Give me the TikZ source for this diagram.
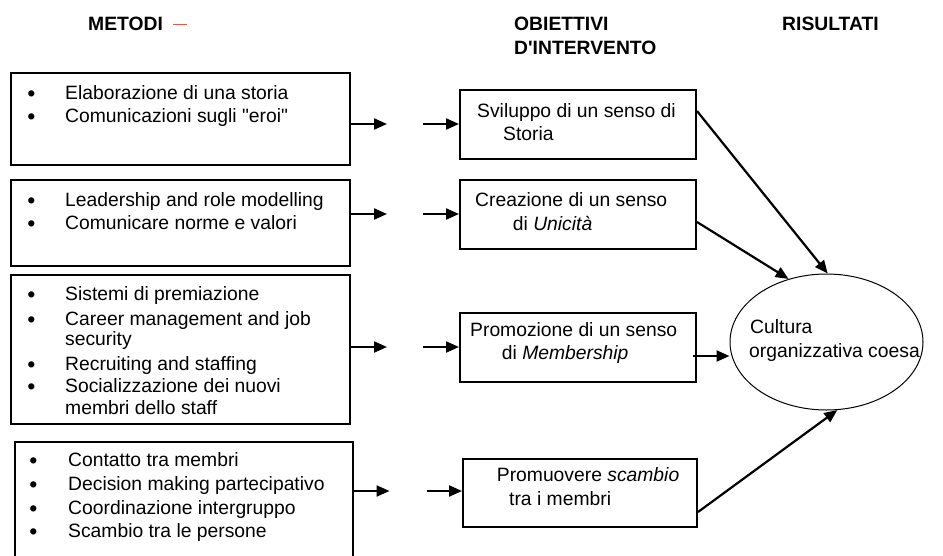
\documentclass[tikz,border=0pt]{standalone}
\usepackage{fontspec}
\setmainfont{Liberation Sans}
\usetikzlibrary{arrows.meta,shapes.geometric,positioning}
\definecolor{dashred}{RGB}{232,86,66}

\begin{document}
\begin{tikzpicture}[x=1pt,y=-1pt,>={Triangle[length=13pt,width=11pt]},
    every node/.style={font=\fontsize{19.3}{22}\selectfont,inner sep=0pt},
    method box/.style={draw,line width=2pt,anchor=north west,minimum width=339pt},
    goal box/.style={draw,line width=2pt,anchor=north west,minimum width=236pt,minimum height=69pt},
    bullet dot/.style={anchor=base,font=\fontsize{23}{23}\selectfont},
    line text/.style={anchor=base west},
    head text/.style={anchor=base west,font=\fontsize{19.3}{22}\selectfont\bfseries},
    link/.style={->,line width=2.2pt}]
    \useasboundingbox (0,0) rectangle (943,555);
    \clip (0,0) rectangle (943,555);

    % headings
    \node[head text] (h1) at (88,30.5) {METODI};
    \draw[dashred,line width=1.2pt] (173,24.7) -- (187,24.7);
    \node[head text] (h2) at (514,30) {OBIETTIVI};
    \node[head text] (h3) at (514,54) {D\textquotesingle INTERVENTO};
    \node[head text] (h4) at (782,30) {RISULTATI};

    % metodi
    \node[method box,minimum height=92pt] (m1) at (10,72) {};
    \node[method box,minimum height=86pt] (m2) at (10,179) {};
    \node[method box,minimum height=149pt] (m3) at (10,274) {};
    \node[method box,minimum width=338pt,minimum height=140pt] (m4) at (14,441) {};

    \foreach \yy/\txt [count=\i] in {99.5/Elaborazione di una storia,122/Comunicazioni sugli \textquotedbl eroi\textquotedbl,
        206/Leadership and role modelling,229/Comunicare norme e valori,
        300.7/Sistemi di premiazione,325/Career management and job,
        370/Recruiting and staffing,392.7/Socializzazione dei nuovi}
    {
        \node[bullet dot] (bul\i) at (31.5,{\yy+2}) {\textbullet};
        \node[line text] (itm\i) at (65,\yy) {\txt};
    }
    \node[line text] (itm9) at (65,345) {security};
    \node[line text] (itm10) at (65,414) {membri dello staff};

    \foreach \yy/\txt [count=\i] in {466.7/Contatto tra membri,490.7/Decision making partecipativo,
        514/Coordinazione intergruppo,537.3/Scambio tra le persone}
    {
        \node[bullet dot] (cbul\i) at (33.5,{\yy+2}) {\textbullet};
        \node[line text] (citm\i) at (68,\yy) {\txt};
    }

    % obiettivi
    \node[goal box] (o1) at (459,89) {};
    \node[goal box] (o2) at (459,179) {};
    \node[goal box] (o3) at (459,312) {};
    \node[goal box,minimum width=234pt,minimum height=68pt] (o4) at (462,458) {};

    \node[line text] (t1a) at (477,117.3) {Sviluppo di un senso di};
    \node[line text] (t1b) at (503,140) {Storia};
    \node[line text] (t2a) at (475,206.7) {Creazione di un senso};
    \node[line text] (t2b) at (512.7,230) {di \textit{Unicità}};
    \node[line text] (t3a) at (470,336.7) {Promozione di un senso};
    \node[line text] (t3b) at (501.7,359.3) {di \textit{Membership}};
    \node[line text] (t4a) at (496.7,481.7) {Promuovere \textit{scambio}};
    \node[line text] (t4b) at (509,505) {tra i membri};

    % risultati
    \node[draw,ellipse,line width=1pt,minimum width=193pt,minimum height=136pt] (res) at (826.5,342) {};
    \node[line text] (r1) at (750,333.3) {Cultura};
    \node[line text] (r2) at (749,357.3) {organizzativa coesa};

    % frecce
    \coordinate (a1) at (387,124);   \coordinate (b1) at (423,124);
    \coordinate (a2) at (387,214);   \coordinate (b2) at (423,214);
    \coordinate (a3) at (387,347);   \coordinate (b3) at (423,347);
    \coordinate (a4) at (389.5,491); \coordinate (b4) at (426.5,491);
    \coordinate (c3) at (693,356);

    \draw[link] (m1.east |- a1) -- (a1);
    \draw[link] (b1) -- (o1.west |- b1);
    \draw[link] (m2.east |- a2) -- (a2);
    \draw[link] (b2) -- (o2.west |- b2);
    \draw[link] (m3.east |- a3) -- (a3);
    \draw[link] (b3) -- (o3.west |- b3);
    \draw[link] (m4.east |- a4) -- (a4);
    \draw[link] (b4) -- (o4.west |- b4);

    \draw[link] ([yshift=-22pt]o1.north east) -- (res.89);
    \draw[link] ([yshift=-43pt]o2.north east) -- (res.121);
    \draw[link] (c3) -- (c3 -| res.west);
    \draw[link] ([yshift=16pt]o4.south east) -- (res.-81);
\end{tikzpicture}
\end{document}
